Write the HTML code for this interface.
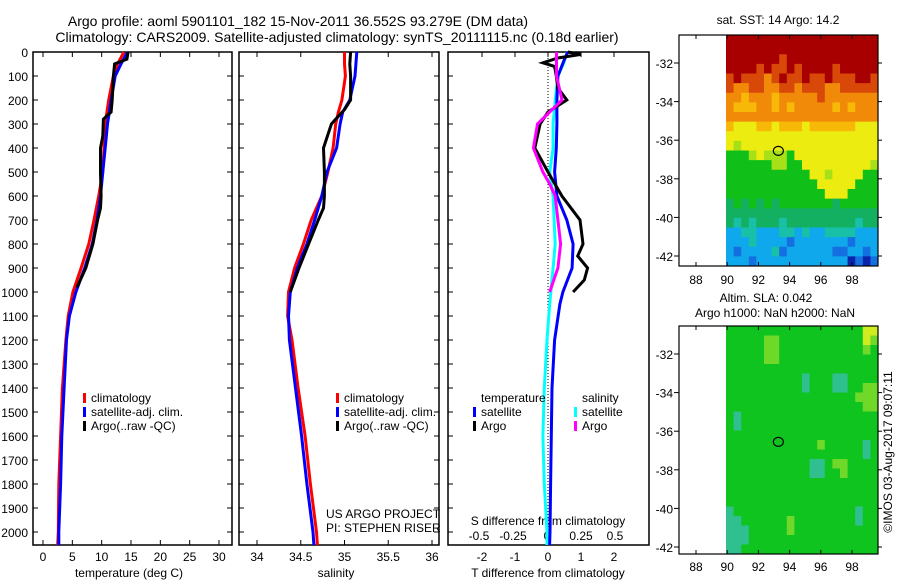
<!DOCTYPE html>
<html><head><meta charset="utf-8"><style>
body{margin:0;background:#fff;}
svg{display:block;font-family:"Liberation Sans",sans-serif;}
text{fill:#000;}
</style></head><body>
<svg id="c" width="900" height="580" viewBox="0 0 900 580" xmlns="http://www.w3.org/2000/svg">
<text x="298" y="26" font-size="14" text-anchor="middle">Argo profile: aoml 5901101_182 15-Nov-2011 36.552S 93.279E (DM data)</text>
<text x="337" y="42" font-size="14" text-anchor="middle">Climatology: CARS2009. Satellite-adjusted climatology: synTS_20111115.nc (0.18d earlier)</text>
</svg>
<script>
// ---------- data ----------
const tempClimDepth=[0,50,100,200,300,400,500,600,700,800,900,1000,1100,1200,1400,1600,1800,2000,2054];
const tempClim=[13.8,12.7,12.0,11.2,10.6,10.4,10.2,9.5,8.7,7.8,6.5,5.1,4.3,3.9,3.3,3.0,2.7,2.6,2.5];
const tempSat=[14.4,13.3,12.3,11.6,11.0,10.6,10.2,9.8,9.2,8.4,7.1,5.6,4.5,4.0,3.6,3.2,3.0,2.7,2.7];
const tempArgoDepth=[0,30,50,100,200,250,280,350,400,500,600,650,700,800,900,980];
const tempArgo=[14.5,14.3,12.2,12.0,11.8,11.6,10.3,10.2,9.8,9.8,9.9,9.8,9.3,8.5,7.3,5.8];
const salDepth=[0,50,100,200,250,300,400,500,600,700,800,900,1000,1100,1200,1400,1600,1800,2000,2054];
const salClim=[35.0,35.0,35.01,34.97,34.93,34.9,34.87,34.81,34.74,34.62,34.53,34.43,34.36,34.35,34.40,34.47,34.55,34.61,34.68,34.69];
const salSat=[35.14,35.13,35.12,35.06,34.98,34.95,34.91,34.80,34.74,34.66,34.57,34.46,34.38,34.36,34.37,34.44,34.51,34.57,34.64,34.65];
const salArgoDepth=[0,50,100,200,240,280,300,400,500,600,650,700,800,900,1000];
const salArgo=[35.07,35.06,35.07,35.07,35.0,34.9,34.85,34.76,34.77,34.77,34.76,34.70,34.59,34.48,34.38];
const dTSatDepth=[0,30,100,200,300,400,500,600,700,800,900,1000,1050,1200,1400,1600,1800,2000,2054];
const dTSat=[0.6,0.5,0.3,0.27,0.27,0.25,0.2,0.27,0.57,0.76,0.73,0.45,0.36,0.2,0.12,0.1,0.08,0.06,0.05];
const dTArgoDepth=[0,10,25,45,60,100,150,200,250,300,400,500,600,700,800,850,900,950,1000];
const dTArgo=[0.6,1.0,0.3,-0.15,0.2,0.25,0.3,0.57,0.0,-0.24,-0.4,0.0,0.42,0.97,1.06,0.9,1.2,1.1,0.76];
const dSSatDepth=[0,50,100,200,300,400,500,600,800,900,1050,1200,1400,1600,1800,2000,2054];
const dSSat=[0.15,0.12,0.08,0.06,0.045,0.045,0.02,0.045,0.06,0.045,0.02,0.0,-0.02,-0.03,-0.02,0.0,0.0];
const dSArgoDepth=[0,100,200,250,300,400,500,550,600,700,800,900,1000];
const dSArgo=[0.07,0.07,0.11,0.02,-0.07,-0.1,-0.03,0.02,0.06,0.08,0.1,0.08,0.02];
const depthTicks=[0,100,200,300,400,500,600,700,800,900,1000,1100,1200,1300,1400,1500,1600,1700,1800,1900,2000];
const tempTicks=[0,5,10,15,20,25,30];
const salTicks=[34,34.5,35,35.5,36];
const dTTicks=[-2,-1,0,1,2];
const dSTicks=[-0.5,-0.25,0,0.25,0.5];
const lonTicks=[88,90,92,94,96,98];
const latTicks=[-32,-34,-36,-38,-40,-42];
const sstGrid=[
"aaaaaaaaaaaaaaaaaaaa","aaaaaaaaaaaaaaaaaaaa","aaaaaaa9aaaaaaaaaaaa","aaaa9a99a9aaaa9aaaaa",
"9a99989a99a99a999aa9","98899889989998899999","88788878888898888888","87778878788888787888",
"88888888888888888888","76667767776777777666","66666666666666666666","65666666666666666666",
"44456555466666666666","44444455446666666665","44444444444665666644","44444444444466666444",
"44444444444446664444","34343434444444344444","33333333333333333333","32323332333333333233",
"11221112212112222111","11121111011111110111","10111120111111001101","1110111111111111z0z0"];
const slaGrid=[
"44444444444444444466","44444554444444444465","44444554444444444454","44444554444444444444",
"44444444444444444444","44444444442444224444","44444444442444224455","44444444444444444555",
"44444444444444444455","42444444444444444444","42444444444444444444","44444444444444444444",
"44444444444454444424","44444444444444444424","44444444444224554444","44444444444224454444",
"44444444444444444444","44444444444444444444","44444444444444444444","24444444444444444244",
"22444444544444444244","22244444544444444444","22244444444444444444","22444444444444444444"];
const sstColor={a:"#a80000",9:"#d84808",8:"#f08a08",7:"#f8b808",6:"#ecec10",5:"#a8e018",4:"#10c018",3:"#12b060",2:"#18c0a8",1:"#10a8ec",0:"#1470e0",z:"#0824a8"};
const slaColor={6:"#d0ec20",5:"#70d828",4:"#10c420",3:"#14b858",2:"#30c090"};
const profileLat=-36.552, profileLon=93.279;

// ---------- helpers ----------
const svg=document.getElementById('c');
const NS="http://www.w3.org/2000/svg";
const FS=12;
function mk(tag,attrs,parent){const e=document.createElementNS(NS,tag);for(const k in attrs)e.setAttribute(k,attrs[k]);(parent||svg).appendChild(e);return e;}
function txt(x,y,s,anchor,size,parent){const t=mk('text',{x:x,y:y,'font-size':size||FS,'text-anchor':anchor||'start'},parent);t.textContent=s;return t;}
const Y=d=>52+d*0.24;
const xT=v=>43+v*5.867;
const xS=v=>257+(v-34)*87.5;
const xDT=v=>548+v*33;
const xDS=v=>547+v*136;
function line(xs,ds,fx,color,name){
  const pts=xs.map((v,i)=>fx(v).toFixed(1)+","+Y(ds[i]).toFixed(1)).join(" ");
  const p=mk('polyline',{points:pts,fill:'none',stroke:color,'stroke-width':3,'stroke-linejoin':'miter'});
  
  
}
function frame(x0,x1,name){
  const r=mk('rect',{x:x0,y:52,width:x1-x0,height:493,fill:'none',stroke:'#000','stroke-width':1.5});
  
  
}
// ---------- panel 1 temperature ----------
frame(33,232,'temperature-panel-frame');
depthTicks.forEach(d=>{
  const t=txt(28,Y(d)+5,String(d),'end',FS);
  
  
  mk('line',{x1:33,x2:38,y1:Y(d),y2:Y(d),stroke:'#000'});
  mk('line',{x1:227,x2:232,y1:Y(d),y2:Y(d),stroke:'#000'});
});
tempTicks.forEach(v=>{
  mk('line',{x1:xT(v),x2:xT(v),y1:52,y2:57,stroke:'#000'});
  mk('line',{x1:xT(v),x2:xT(v),y1:540,y2:545,stroke:'#000'});
  const t=txt(xT(v),561,String(v),'middle',FS);
  
  
});
{const t=txt(129,577,'temperature (deg C)','middle',FS);}
line(tempClim,tempClimDepth,xT,'#f00','temperature-climatology-line');
line(tempSat,tempClimDepth,xT,'#00f','temperature-satellite-line');
line(tempArgo,tempArgoDepth,xT,'#000','temperature-argo-line');
function legend(x,y,color,label,name){
  const g=mk('g',{});
  
  
  mk('rect',{x:x,y:y-9,width:3,height:10,fill:color},g);
  txt(x+8,y,label,'start',FS,g);
}
legend(83,402,'#f00','climatology','temp-legend-climatology');
legend(83,416,'#00f','satellite-adj. clim.','temp-legend-satellite');
legend(83,430,'#000','Argo(..raw -QC)','temp-legend-argo');
// ---------- panel 2 salinity ----------
frame(239,439,'salinity-panel-frame');
depthTicks.forEach(d=>{mk('line',{x1:239,x2:244,y1:Y(d),y2:Y(d),stroke:'#000'});mk('line',{x1:434,x2:439,y1:Y(d),y2:Y(d),stroke:'#000'});});
salTicks.forEach(v=>{
  mk('line',{x1:xS(v),x2:xS(v),y1:52,y2:57,stroke:'#000'});
  mk('line',{x1:xS(v),x2:xS(v),y1:540,y2:545,stroke:'#000'});
  const t=txt(xS(v),561,String(v),'middle',FS);
  
  
});
{const t=txt(336,577,'salinity','middle',FS);}
line(salClim,salDepth,xS,'#f00','salinity-climatology-line');
line(salSat,salDepth,xS,'#00f','salinity-satellite-line');
line(salArgo,salArgoDepth,xS,'#000','salinity-argo-line');
legend(336,402,'#f00','climatology','sal-legend-climatology');
legend(336,416,'#00f','satellite-adj. clim.','sal-legend-satellite');
legend(336,430,'#000','Argo(..raw -QC)','sal-legend-argo');
{const t=txt(326,518,'US ARGO PROJECT','start',FS);
 const u=txt(326,532,'PI: STEPHEN RISER','start',FS);}
// ---------- panel 3 differences ----------
frame(448,649,'difference-panel-frame');
depthTicks.forEach(d=>{mk('line',{x1:448,x2:453,y1:Y(d),y2:Y(d),stroke:'#000'});});
mk('line',{x1:548,x2:548,y1:52,y2:545,stroke:'#000','stroke-dasharray':'1,2'});
dTTicks.forEach(v=>{
  mk('line',{x1:xDT(v),x2:xDT(v),y1:52,y2:57,stroke:'#000'});
  const t=txt(xDT(v),561,String(v),'middle',FS);
  
  
});
dSTicks.forEach(v=>{
  const t=txt(xDS(v),540,String(v),'middle',FS);
  
  
});
{const t=txt(548,525,'S difference from climatology','middle',FS);
 const u=txt(548,577,'T difference from climatology','middle',FS);}
line(dSSat,dSSatDepth,xDS,'#0ff','s-diff-satellite-line');
line(dTSat,dTSatDepth,xDT,'#00f','t-diff-satellite-line');
line(dTArgo,dTArgoDepth,xDT,'#000','t-diff-argo-line');
line(dSArgo,dSArgoDepth,xDS,'#f0f','s-diff-argo-line');
{const t=txt(481,402,'temperature','start',FS);
 const u=txt(582,402,'salinity','start',FS);}
legend(473,416,'#00f','satellite','diff-legend-t-satellite');
legend(473,430,'#000','Argo','diff-legend-t-argo');
legend(574,416,'#0ff','satellite','diff-legend-s-satellite');
legend(574,430,'#f0f','Argo','diff-legend-s-argo');
// ---------- maps ----------
function map(top,bot,grid,colors,name,labelY){
  const left=679,right=878,dataLeft=726;
  const lonX=l=>696+(l-88)*15.6;
  const latY=l=>top+28+(-32-l)*19.3;
  const g=mk('g',{});
  
  
  const rows=grid.length,cols=grid[0].length;
  const cw=(right-dataLeft)/cols,ch=(bot-top)/rows;
  grid.forEach((row,i)=>{for(let j=0;j<cols;j++){
    const c=mk('rect',{x:(dataLeft+j*cw).toFixed(2),y:(top+i*ch).toFixed(2),width:(cw+0.4).toFixed(2),height:(ch+0.4).toFixed(2),fill:colors[row[j]]},g);
    
    
  }});
  mk('rect',{x:left,y:top,width:right-left,height:bot-top,fill:'none',stroke:'#000','stroke-width':1.2},g);
  lonTicks.forEach(l=>{
    mk('line',{x1:lonX(l),x2:lonX(l),y1:top,y2:top+4,stroke:'#000'},g);
    mk('line',{x1:lonX(l),x2:lonX(l),y1:bot-4,y2:bot,stroke:'#000'},g);
    txt(lonX(l),labelY,String(l),'middle',FS,g);
  });
  latTicks.forEach(l=>{
    mk('line',{x1:left-5,x2:left,y1:latY(l),y2:latY(l),stroke:'#000'},g);
    mk('line',{x1:right,x2:right+4,y1:latY(l),y2:latY(l),stroke:'#000'},g);
    txt(673,latY(l)+5,String(l),'end',FS,g);
  });
  const m=mk('ellipse',{cx:lonX(profileLon),cy:latY(profileLat),rx:5,ry:4.5,fill:'none',stroke:'#000','stroke-width':1.2},g);
  
  
}
map(35,266,sstGrid,sstColor,'sst-map',284);
map(326,554,slaGrid,slaColor,'sla-map',571);
{const t=txt(778,24,'sat. SST: 14 Argo: 14.2','middle',FS);
 const a=txt(766,302,'Altim. SLA: 0.042','middle',FS);
 const b=txt(775,317,'Argo h1000: NaN h2000: NaN','middle',FS);
 const c=txt(0,0,'©IMOS 03-Aug-2017 09:07:11','middle',FS);c.setAttribute('transform','translate(892,452) rotate(-90)');}
</script>
</body></html>
